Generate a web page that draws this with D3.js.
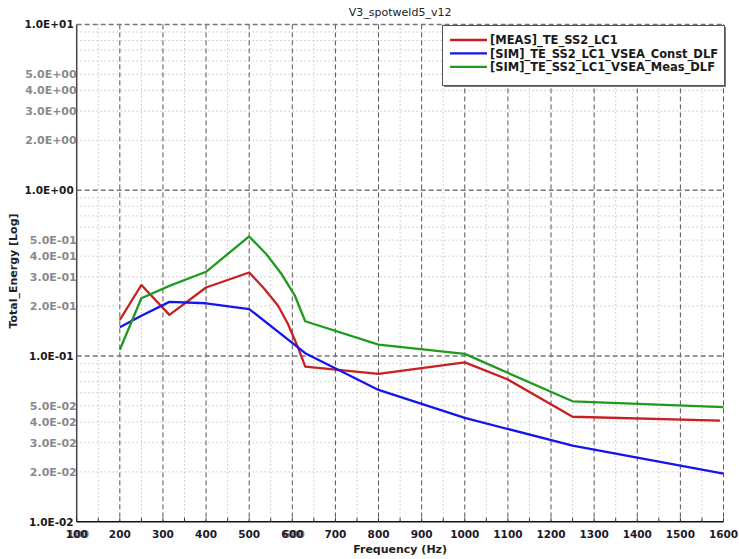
<!DOCTYPE html>
<html>
<head>
<meta charset="utf-8">
<script src="https://cdn.jsdelivr.net/npm/d3@7/dist/d3.min.js"></script>
<style>
  html, body { margin: 0; padding: 0; background: #fff; }
  svg { display: block; }
  text { font-family: "DejaVu Sans", Verdana, sans-serif; }
</style>
</head>
<body>
<svg id="chart" width="739" height="559"></svg>
<script>
// Chart title and series names
const chartTitle = "V3_spotweld5_v12";
const seriesNames = [
  "[MEAS]_TE_SS2_LC1",
  "[SIM]_TE_SS2_LC1_VSEA_Const_DLF",
  "[SIM]_TE_SS2_LC1_VSEA_Meas_DLF"
];

// Measured total energy
const measFreq   = [200, 250, 315, 400, 500, 536, 567, 590, 613, 630, 800, 1000, 1100, 1250, 1592];
const measEnergy = [0.165, 0.268, 0.177, 0.259, 0.319, 0.253, 0.201, 0.156, 0.113, 0.0862, 0.078, 0.0916, 0.0721, 0.043, 0.0408];

// Simulation, constant damping loss factor
const constFreq   = [200, 250, 315, 400, 500, 630, 800, 1000, 1250, 1600];
const constEnergy = [0.149, 0.175, 0.212, 0.208, 0.192, 0.104, 0.0624, 0.0423, 0.0288, 0.0195];

// Simulation, measured damping loss factor
const measDlfFreq   = [200, 250, 315, 400, 500, 540, 575, 606, 630, 800, 1000, 1250, 1600];
const measDlfEnergy = [0.109, 0.223, 0.265, 0.322, 0.526, 0.411, 0.312, 0.231, 0.162, 0.117, 0.103, 0.0533, 0.0491];

// Axis ticks
const xTicks = [100, 200, 300, 400, 500, 600, 700, 800, 900, 1000, 1100, 1200, 1300, 1400, 1500, 1600];
const xMinorTicks = [150, 250, 350, 450, 550, 650, 750, 850, 950, 1050, 1150, 1250, 1350, 1450, 1550];
const yMajorTicks = [10, 1, 0.1, 0.01];
const yMajorLabels = ["1.0E+01", "1.0E+00", "1.0E-01", "1.0E-02"];
const yLabelledMinor = [5, 4, 3, 2, 0.5, 0.4, 0.3, 0.2, 0.05, 0.04, 0.03, 0.02];
const yLabelledMinorText = ["5.0E+00", "4.0E+00", "3.0E+00", "2.0E+00",
                            "5.0E-01", "4.0E-01", "3.0E-01", "2.0E-01",
                            "5.0E-02", "4.0E-02", "3.0E-02", "2.0E-02"];
const yMinorGrid = [9, 8, 7, 6, 5, 4, 3, 2,
                    0.9, 0.8, 0.7, 0.6, 0.5, 0.4, 0.3, 0.2,
                    0.09, 0.08, 0.07, 0.06, 0.05, 0.04, 0.03, 0.02];

const colors = ["#c8201e", "#1414ee", "#1f9a1f"];

const svg = d3.select("#chart");
const plot = { left: 76.7, right: 723.5, top: 24.4, bottom: 521.8 };

const x = d3.scaleLinear().domain([100, 1600]).range([plot.left, plot.right]);
const y = d3.scaleLog().domain([0.01, 10]).range([plot.bottom, plot.top]);

// Grid
const grid = svg.append("g");
grid.selectAll("line.hminor").data(yMinorGrid).enter().append("line")
  .attr("x1", plot.left).attr("x2", plot.right)
  .attr("y1", d => y(d)).attr("y2", d => y(d))
  .attr("stroke", "#a8a8a8").attr("stroke-width", 1).attr("stroke-dasharray", "1,3");
grid.selectAll("line.vminor").data(xMinorTicks).enter().append("line")
  .attr("x1", d => x(d)).attr("x2", d => x(d))
  .attr("y1", plot.top).attr("y2", plot.bottom)
  .attr("stroke", "#a8a8a8").attr("stroke-width", 1).attr("stroke-dasharray", "1,3");
grid.selectAll("line.vmajor").data(xTicks.slice(1)).enter().append("line")
  .attr("x1", d => x(d)).attr("x2", d => x(d))
  .attr("y1", plot.top).attr("y2", plot.bottom)
  .attr("stroke", "#555").attr("stroke-width", 1).attr("stroke-dasharray", "5,3");
grid.selectAll("line.hmajor").data(yMajorTicks.slice(0, 3)).enter().append("line")
  .attr("x1", plot.left).attr("x2", plot.right)
  .attr("y1", d => y(d)).attr("y2", d => y(d))
  .attr("stroke", "#777").attr("stroke-width", 1.5).attr("stroke-dasharray", "5,3");

// Axes lines
svg.append("line").attr("x1", plot.left).attr("x2", plot.left)
  .attr("y1", plot.top).attr("y2", plot.bottom)
  .attr("stroke", "#444").attr("stroke-width", 1.5);
svg.append("line").attr("x1", plot.left).attr("x2", plot.right)
  .attr("y1", plot.bottom).attr("y2", plot.bottom)
  .attr("stroke", "#111").attr("stroke-width", 1.5);

// Bottom axis ticks (pointing inward)
svg.append("g").selectAll("line").data(xTicks.concat(xMinorTicks)).enter().append("line")
  .attr("x1", d => x(d)).attr("x2", d => x(d))
  .attr("y1", plot.bottom).attr("y2", plot.bottom - 4)
  .attr("stroke", "#333").attr("stroke-width", 1);

// X tick labels
const xl = svg.append("g").attr("font-size", "10.5px").attr("font-weight", "bold").attr("fill", "#1a1a2a");
xl.selectAll("text").data(xTicks).enter().append("text")
  .attr("x", d => x(d)).attr("y", 537.5)
  .attr("text-anchor", "middle").text(d => d);
// 100 and 600 carry a second, slightly offset copy of their labels
xl.selectAll("text.dup").data([100, 600]).enter().append("text")
  .attr("x", d => x(d) + 1.5).attr("y", 537.5)
  .attr("text-anchor", "middle").attr("fill", "#2a1a1a").attr("opacity", 0.6).text(d => d);

// Y tick labels
const yl = svg.append("g").attr("font-weight", "bold");
yl.selectAll("text.major").data(yMajorTicks).enter().append("text")
  .attr("x", plot.left - 3).attr("y", d => y(d)).attr("dy", "0.36em")
  .attr("font-size", "10.5px")
  .attr("text-anchor", "end").attr("fill", "#1a1a1a")
  .text((d, i) => yMajorLabels[i]);
yl.selectAll("text.minor").data(yLabelledMinor).enter().append("text")
  .attr("x", plot.left).attr("y", d => y(d)).attr("dy", "0.36em")
  .attr("font-size", "11px")
  .attr("text-anchor", "end").attr("fill", "#8a8a8a")
  .text((d, i) => yLabelledMinorText[i]);

// Series lines
const line = d3.line().x(d => x(d[0])).y(d => y(d[1]));
const series = [
  d3.zip(measFreq, measEnergy),
  d3.zip(constFreq, constEnergy),
  d3.zip(measDlfFreq, measDlfEnergy)
];
svg.append("g").selectAll("path").data(series).enter().append("path")
  .attr("d", line)
  .attr("fill", "none")
  .attr("stroke", (d, i) => colors[i])
  .attr("stroke-width", 2.3)
  .attr("stroke-linejoin", "round");

// Title and axis titles
svg.append("text").attr("x", (plot.left + plot.right) / 2).attr("y", 16)
  .attr("text-anchor", "middle").attr("font-size", "11px").attr("fill", "#222")
  .text(chartTitle);
svg.append("text").attr("x", (plot.left + plot.right) / 2).attr("y", 553)
  .attr("text-anchor", "middle").attr("font-size", "11px").attr("font-weight", "bold").attr("fill", "#222")
  .text("Frequency (Hz)");
svg.append("text").attr("transform", "translate(17,271) rotate(-90)")
  .attr("text-anchor", "middle").attr("font-size", "11px").attr("font-weight", "bold").attr("fill", "#222")
  .text("Total_Energy [Log]");

// Legend
const legend = svg.append("g");
legend.append("rect").attr("x", 444).attr("y", 27).attr("width", 282).attr("height", 60).attr("fill", "#777");
legend.append("rect").attr("x", 442.5).attr("y", 25.5).attr("width", 282).attr("height", 60)
  .attr("fill", "#fff").attr("stroke", "#555").attr("stroke-width", 1);
const rows = legend.selectAll("g.row").data(seriesNames).enter().append("g")
  .attr("transform", (d, i) => `translate(0,${40 + i * 13.4})`);
rows.append("line").attr("x1", 450).attr("x2", 487).attr("y1", 0).attr("y2", 0)
  .attr("stroke", (d, i) => colors[i]).attr("stroke-width", 2.3);
rows.append("text").attr("x", 490).attr("y", 0).attr("dy", "0.36em")
  .attr("font-size", "11.5px").attr("font-weight", "bold").attr("fill", "#1a1a1a")
  .text(d => d);
</script>
</body>
</html>
